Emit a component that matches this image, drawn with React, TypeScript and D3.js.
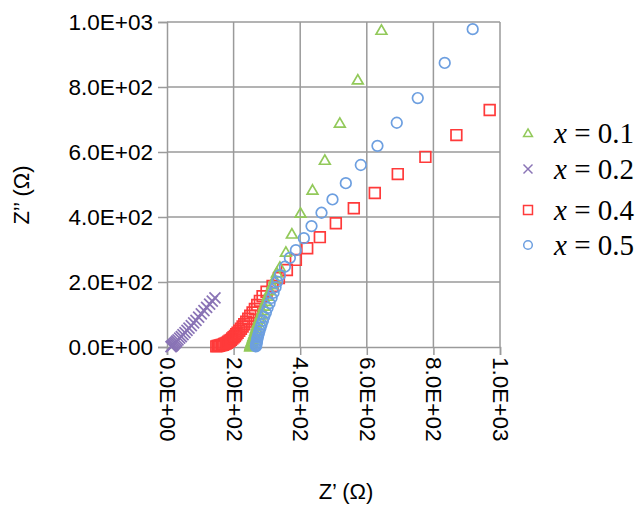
import { useEffect, useRef } from 'react';
import * as d3 from 'd3';

// Nyquist data: [Z' (Ω), Z'' (Ω)]
const series01: [number, number][] = [
  [250, 1], [251, 3], [251, 5], [252, 8], [253, 11], [254, 14], [255, 18], [257, 23],
  [258, 28], [260, 34], [262, 41], [265, 49], [267, 57], [270, 66], [273, 76], [277, 87],
  [281, 99], [286, 112], [291, 126], [296, 141], [302, 157], [309, 174], [316, 192],
  [323, 210], [330, 228], [339, 246], [357, 292], [375, 348], [401, 412], [437, 483],
  [474, 575], [519, 689], [573, 822], [644, 975],
];
const series02: [number, number][] = [
  [12, 1], [14, 2], [16, 4], [18, 6], [20, 8], [23, 11], [26, 14], [29, 18], [33, 22],
  [38, 27], [43, 32], [48, 38], [54, 44], [60, 51], [66, 58], [73, 66], [80, 74], [87, 82],
  [95, 92], [103, 102], [111, 112], [119, 122], [128, 132], [136, 141], [144, 151],
];
const series04: [number, number][] = [
  [148, 2], [152, 3], [156, 4], [160, 5], [164, 6], [168, 7], [172, 9], [176, 11],
  [180, 13], [184, 16], [188, 19], [192, 22], [196, 26], [200, 30], [204, 34], [208, 39],
  [212, 44], [217, 50], [222, 56], [227, 63], [232, 70], [238, 78], [244, 87], [250, 96],
  [257, 106], [264, 117], [271, 129], [279, 142], [287, 156], [299, 170], [317, 188],
  [336, 212], [360, 237], [387, 268], [421, 304], [459, 338], [507, 381], [561, 427],
  [624, 474], [693, 532], [776, 585], [869, 652], [969, 729],
];
const series05: [number, number][] = [
  [267, 2], [268, 5], [268, 9], [269, 13], [270, 18], [271, 23], [272, 29], [274, 36],
  [276, 43], [278, 51], [281, 60], [284, 70], [288, 81], [292, 93], [297, 106], [302, 120],
  [308, 135], [314, 151], [320, 167], [326, 184], [331, 201], [339, 221], [354, 247],
  [369, 274], [387, 298], [411, 335], [434, 372], [464, 413], [497, 454], [537, 504],
  [582, 560], [632, 619], [690, 690], [753, 766], [834, 874], [918, 978],
];

const legendLabels = ['0.1', '0.2', '0.4', '0.5'];
const xTicks = [0, 200, 400, 600, 800, 1000];
const yTicks = [0, 200, 400, 600, 800, 1000];

const fmt = (v: number) => {
  const s = v.toExponential(1).toUpperCase(); // e.g. 2.0E+2
  return s.replace(/E([+-])(\d)$/, 'E$10$2');
};

export default function App() {
  const svgRef = useRef<SVGSVGElement>(null);

  useEffect(() => {
    const svg = d3.select(svgRef.current);
    svg.selectAll('*').remove();

    const width = 644;
    const height = 505;
    const margin = { top: 22, right: 144, bottom: 158, left: 167 };

    const x = d3.scaleLinear().domain([0, 1000]).range([margin.left, width - margin.right]);
    const y = d3.scaleLinear().domain([0, 1000]).range([height - margin.bottom, margin.top]);

    svg.attr('width', width).attr('height', height);
    svg.append('rect').attr('width', width).attr('height', height).attr('fill', '#fff');

    const gridColor = '#9a9a9a';
    const sans = 'Liberation Sans, Arial, sans-serif';

    // grid
    const grid = svg.append('g').attr('stroke', gridColor).attr('stroke-width', 1.5);
    grid.selectAll('line.v')
      .data(xTicks.slice(1))
      .join('line')
      .attr('class', 'v')
      .attr('x1', d => x(d)).attr('x2', d => x(d))
      .attr('y1', y(0)).attr('y2', y(1000));
    grid.selectAll('line.h')
      .data(yTicks.slice(1))
      .join('line')
      .attr('class', 'h')
      .attr('x1', x(0)).attr('x2', x(1000))
      .attr('y1', d => y(d)).attr('y2', d => y(d));

    // axes
    const yAxis = svg.append('g')
      .attr('transform', `translate(${x(0)},0)`)
      .call(d3.axisLeft(y).tickValues(yTicks).tickSize(9).tickFormat(d => fmt(+d)));
    yAxis.select('.domain').attr('stroke', gridColor).attr('stroke-width', 1.5);
    yAxis.selectAll('.tick line').attr('stroke', gridColor).attr('stroke-width', 1.5);
    yAxis.selectAll('.tick text')
      .attr('font-family', sans)
      .attr('font-size', 22.5)
      .attr('fill', '#000')
      .attr('x', -14);

    const xAxis = svg.append('g')
      .attr('transform', `translate(0,${y(0)})`)
      .call(d3.axisBottom(x).tickValues(xTicks).tickSize(8).tickFormat(d => fmt(+d)));
    xAxis.select('.domain').attr('stroke', gridColor).attr('stroke-width', 1.5);
    xAxis.selectAll('.tick line').attr('stroke', gridColor).attr('stroke-width', 1.5);
    xAxis.selectAll('.tick text')
      .attr('font-family', sans)
      .attr('font-size', 22.5)
      .attr('fill', '#000')
      .attr('y', 0)
      .attr('dy', 0)
      .attr('text-anchor', 'start')
      .attr('dominant-baseline', 'central')
      .attr('transform', 'translate(0,10) rotate(90)');

    // axis titles
    svg.append('text')
      .attr('x', 346).attr('y', 499)
      .attr('text-anchor', 'middle')
      .attr('font-family', sans)
      .attr('font-size', 22)
      .text('Z’ (Ω)');
    svg.append('text')
      .attr('transform', 'translate(29,195) rotate(-90)')
      .attr('text-anchor', 'middle')
      .attr('font-family', sans)
      .attr('font-size', 22)
      .text('Z’’ (Ω)');

    const green = '#92c95a';
    const purple = '#8a74b6';
    const red = '#ff3a3a';
    const blue = '#6d9fe0';

    const tri = d3.symbol(d3.symbolTriangle, 50);
    const sq = d3.symbol(d3.symbolSquare, 115);

    const drawCross = (g: any, s: number) => {
      g.append('line').attr('x1', -s).attr('y1', -s).attr('x2', s).attr('y2', s);
      g.append('line').attr('x1', -s).attr('y1', s).attr('x2', s).attr('y2', -s);
    };

    const pts = svg.append('g').attr('fill', 'none').attr('stroke-width', 1.7);

    pts.append('g').attr('stroke', purple)
      .selectAll('g')
      .data(series02)
      .join('g')
      .attr('transform', d => `translate(${x(d[0])},${y(d[1])})`)
      .each(function () { drawCross(d3.select(this), 5.5); });

    pts.append('g').attr('stroke', red)
      .selectAll('path')
      .data(series04)
      .join('path')
      .attr('d', sq)
      .attr('transform', d => `translate(${x(d[0])},${y(d[1])})`);

    pts.append('g').attr('stroke', green)
      .selectAll('path')
      .data(series01)
      .join('path')
      .attr('d', tri)
      .attr('transform', d => `translate(${x(d[0])},${y(d[1]) + 1})`);

    pts.append('g').attr('stroke', blue)
      .selectAll('circle')
      .data(series05)
      .join('circle')
      .attr('r', 5.3)
      .attr('cx', d => x(d[0]))
      .attr('cy', d => y(d[1]));

    // legend
    const legendY = [133, 169, 210, 245];
    const colors = [green, purple, red, blue];
    const legend = svg.append('g').attr('fill', 'none').attr('stroke-width', 1.5);
    legendLabels.forEach((lab, i) => {
      const row = legend.append('g').attr('transform', `translate(528,${legendY[i]})`);
      if (i === 0) row.append('path').attr('d', d3.symbol(d3.symbolTriangle, 34)()).attr('stroke', colors[i]).attr('transform', 'translate(0,1)');
      if (i === 1) { row.attr('stroke', colors[i]); drawCross(row, 4.5); }
      if (i === 2) row.append('path').attr('d', d3.symbol(d3.symbolSquare, 80)()).attr('stroke', colors[i]);
      if (i === 3) row.append('circle').attr('r', 4.3).attr('stroke', colors[i]);
      const t = row.append('text')
        .attr('x', 26)
        .attr('y', 10)
        .attr('stroke', 'none')
        .attr('fill', '#000')
        .attr('font-family', 'Liberation Serif, Times New Roman, serif')
        .attr('font-size', 29);
      t.append('tspan').attr('font-style', 'italic').text('x');
      t.append('tspan').text(' = ' + lab);
    });
  }, []);

  return <svg ref={svgRef} style={{ position: 'absolute', left: 0, top: 0 }} />;
}
